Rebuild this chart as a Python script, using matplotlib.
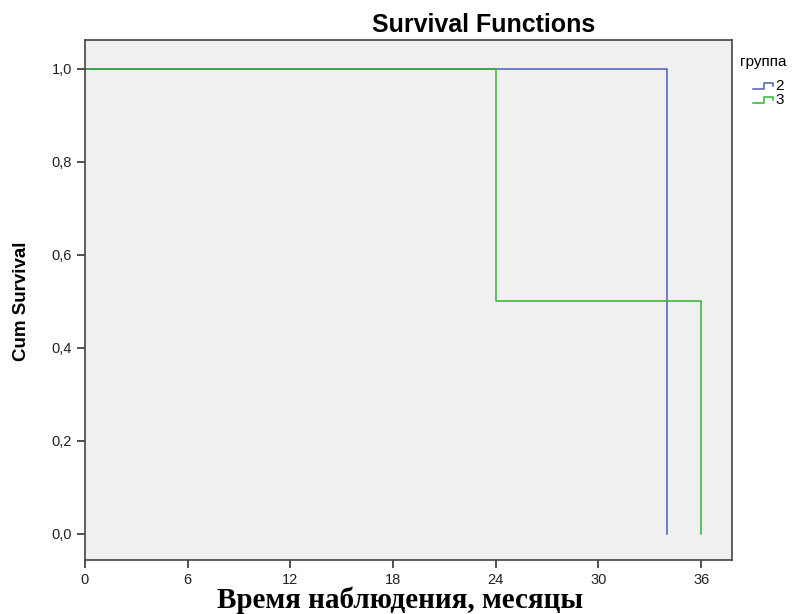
import matplotlib.pyplot as plt
from matplotlib.lines import Line2D
from matplotlib.ticker import FuncFormatter

# данные кривых выживаемости
group_labels = ["2", "3"]
time_g2 = [0, 34, 34]
surv_g2 = [1.0, 1.0, 0.0]
time_g3 = [0, 24, 24, 36, 36]
surv_g3 = [1.0, 1.0, 0.5, 0.5, 0.0]
colors = ["#4a5fb5", "#2fb52f"]

x_ticks = [0, 6, 12, 18, 24, 30, 36]
y_ticks = [0.0, 0.2, 0.4, 0.6, 0.8, 1.0]

fig = plt.figure(figsize=(8.11, 6.14), dpi=100)
ax = fig.add_axes([0.1048, 0.0879, 0.7978, 0.847])
ax.set_facecolor("#f0f0f0")

ax.plot(time_g2, surv_g2, color=colors[0], lw=1.1)
ax.plot(time_g3, surv_g3, color=colors[1], lw=1.1)

ax.set_xlim(0, 37.8)
ax.set_ylim(-0.056, 1.062)
ax.set_xticks(x_ticks)
ax.set_yticks(y_ticks)
ax.yaxis.set_major_formatter(FuncFormatter(lambda v, p: f"{v:.1f}".replace(".", ",")))
ax.tick_params(direction="out", length=6, width=1.2, color="#333333", labelsize=10.5, labelcolor="#222222")
for lbl in ax.get_xticklabels() + ax.get_yticklabels():
    lbl.set_family("Liberation Sans")
for s in ax.spines.values():
    s.set_color("#444444")
    s.set_linewidth(1.2)

fig.text(484 / 811, 1 - 25 / 614, "Survival Functions", ha="center", va="center",
         fontsize=18, fontweight="bold", family="Liberation Sans")
fig.text(22 / 811, 1 - 301 / 614, "Cum Survival", ha="center", va="center", rotation=90,
         fontsize=13.5, fontweight="bold", family="Liberation Sans")
fig.text(400 / 811, 1 - 608 / 614, "Время наблюдения, месяцы", ha="center", va="baseline",
         fontsize=21, fontweight="bold", family="Liberation Serif")

# легенда снаружи справа
fig.text(740 / 811, 1 - 62 / 614, "группа", fontsize=11, va="center", family="Liberation Sans")
for i, lab in enumerate(group_labels):
    yc = 1 - (86 + i * 14) / 614
    h = 3 / 614
    xs = [753 / 811, 764 / 811, 764 / 811, 773 / 811, 773 / 811]
    ys = [yc - h, yc - h, yc + h, yc + h, yc]
    fig.add_artist(Line2D(xs, ys, color=colors[i], lw=1.1, transform=fig.transFigure))
    fig.text(775 / 811, yc, lab, fontsize=11, va="center", family="Liberation Sans")

plt.savefig("out.png", dpi=100)
